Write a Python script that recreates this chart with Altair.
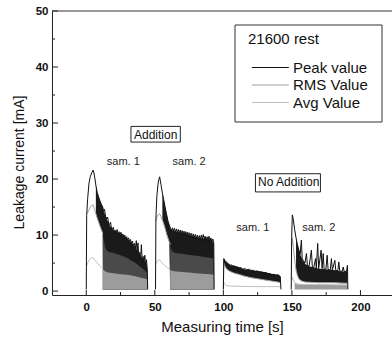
import altair as alt
import pandas as pd

FONT = "Liberation Sans"
BASE = 0.3

SERIES = ["Peak value", "RMS Value", "Avg Value"]
SERIES_COLORS = ["#111111", "#a0a0a0", "#c0c0c0"]

# ---------- Peak value traces (time s, current mA) ----------
PEAK_A1 = [(0, 0.3), (0.3, 13.5), (1, 16.5), (2, 19.3), (3, 20.5), (4, 21.1), (5, 21.6), (5.6, 21.1),
           (6.3, 20.1), (7, 18.9), (8, 17.6), (9, 16.8), (10, 16.1), (11, 15.5), (12, 15.0), (12.6, 14.3),
           (13.3, 14.6), (14, 13.4), (15, 12.9), (15.6, 13.2), (16.3, 12.1), (17, 11.9), (17.7, 12.3),
           (18.4, 11.2), (19, 11.0), (19.7, 11.4), (20.4, 10.6), (21.1, 10.9), (21.8, 10.3), (22.5, 11.0),
           (23.2, 10.2), (23.9, 10.6), (24.6, 10.0), (25.3, 10.5), (26, 9.8), (26.7, 10.2), (27.4, 9.6),
           (28.1, 10.0), (28.8, 9.3), (29.5, 9.7), (30.2, 9.1), (30.9, 9.5), (31.6, 8.8), (32.3, 9.2),
           (33, 8.5), (33.7, 8.9), (34.4, 8.1), (35.1, 8.5), (35.8, 7.6), (36.5, 9.0), (37.1, 6.8),
           (37.7, 8.6), (38.3, 6.2), (39, 6.9), (39.6, 5.8), (40.2, 8.3), (40.8, 5.4), (41.5, 6.2),
           (42.1, 4.9), (42.7, 6.4), (43.3, 4.6), (43.9, 5.6), (44.5, 3.8), (44.8, 0.3)]
PEAK_A2 = [(50.5, 0.3), (50.8, 13.0), (51.5, 17.0), (52.5, 19.5), (53.5, 20.4), (54.5, 19.0), (55.5, 17.5),
           (56.5, 16.3), (57.5, 15.0), (58.5, 13.8), (59.5, 12.6), (60.5, 11.8), (61.5, 11.2), (62.2, 10.6),
           (62.9, 11.3), (63.6, 10.7), (64.3, 11.2), (65, 10.5), (65.7, 11.1), (66.4, 10.4), (67.1, 11.0),
           (67.8, 10.3), (68.5, 10.9), (69.2, 10.2), (69.9, 10.8), (70.6, 10.1), (71.3, 10.7), (72, 10.0),
           (72.7, 10.6), (73.4, 9.9), (74.1, 10.5), (74.8, 9.8), (75.5, 10.4), (76.2, 9.7), (76.9, 10.3),
           (77.6, 9.6), (78.3, 10.2), (79, 9.5), (79.7, 10.1), (80.4, 9.4), (81.1, 10.0), (81.8, 9.3),
           (82.5, 9.9), (83.2, 9.2), (83.9, 10.0), (84.6, 9.1), (85.3, 10.1), (86, 9.2), (86.7, 9.8),
           (87.4, 9.0), (88.1, 9.7), (88.8, 8.9), (89.5, 9.8), (90.2, 8.8), (90.9, 9.5), (91.6, 8.7),
           (92.3, 9.3), (93, 8.6), (93.3, 0.3)]
PEAK_N1 = [(100, 0.3), (100.3, 5.8), (101, 5.5), (102, 5.2), (103, 5.0), (104, 4.8), (105, 4.6), (106, 4.7),
           (107, 4.4), (108, 4.5), (109, 4.2), (110, 4.3), (112, 4.1), (113, 4.2), (114, 3.9), (116, 4.0),
           (117, 3.8), (119, 3.9), (120, 3.7), (122, 3.7), (123, 3.5), (125, 3.6), (126, 3.4), (128, 3.4),
           (129, 3.2), (131, 3.3), (132, 3.1), (134, 3.1), (135, 2.9), (137, 3.0), (138, 2.8), (140, 2.9),
           (141.5, 2.6), (142, 0.3)]
PEAK_N2 = [(149.5, 0.3), (149.8, 9.5), (150.3, 13.6), (151, 12.8), (152, 11.0), (153, 9.5), (154, 8.3),
           (155, 7.4), (156, 6.6), (156.9, 9.1), (157.5, 5.8), (158.5, 5.4), (159.5, 5.0), (160.6, 6.7),
           (161.3, 4.6), (162.5, 4.4), (164.2, 7.3), (164.9, 4.3), (166, 4.2), (167.2, 5.8), (167.8, 4.1),
           (168.8, 8.5), (169.5, 4.0), (171.3, 7.3), (172, 4.0), (172.8, 6.7), (173.5, 3.9), (174.8, 3.9),
           (175.7, 6.4), (176.4, 3.8), (178, 3.8), (178.8, 5.8), (179.5, 3.7), (181.3, 5.5), (182, 3.7),
           (183.5, 3.6), (184.2, 5.2), (184.9, 3.6), (186.7, 3.5), (187.4, 4.3), (188.1, 3.5), (189.8, 3.5),
           (190.5, 4.6), (190.8, 0.3)]

# ---------- RMS value traces ----------
RMS_A1 = [(0.3, 13.8), (1, 14.0), (2, 14.5), (3, 15.0), (4, 15.3), (5, 15.4), (6, 14.6), (7, 13.8),
          (8, 13.0), (9, 12.3), (10, 11.6), (11, 11.0), (12, 10.3)]
RMS_A2 = [(50.8, 12.5), (51.5, 13.2), (52.5, 13.6), (53.5, 13.8), (54.5, 13.3), (55.5, 12.7), (56.5, 12.0),
          (57.5, 11.2), (58.5, 10.3), (59.5, 9.5), (60.5, 8.8), (61.5, 8.3)]
RMS_N1 = [(100, 0.3), (100.3, 5.0), (101, 4.5), (102, 4.1), (103, 3.8), (105, 3.5), (108, 3.2), (111, 3.0),
          (115, 2.7), (120, 2.4), (125, 2.2), (130, 2.0), (135, 1.8), (140, 1.6), (142, 1.5)]
RMS_N2 = [(149.8, 8.0), (150.3, 9.5), (151, 8.0), (152, 5.5), (153, 3.8), (154, 2.8), (155, 2.2), (157, 1.8),
          (160, 1.6), (170, 1.5), (180, 1.5), (190.5, 1.4)]

# ---------- Avg value traces ----------
AVG_A1 = [(0.3, 4.5), (1, 5.0), (2, 5.5), (3, 5.8), (4, 6.0), (5, 5.9), (6, 5.6), (8, 5.0), (10, 4.5), (12, 4.0)]
AVG_A2 = [(50.8, 4.8), (51.5, 5.2), (52.5, 5.5), (53.5, 5.6), (54.5, 5.3), (55.5, 5.0), (57, 4.6), (59, 4.2),
          (61.2, 3.8)]
AVG_N1 = [(100.3, 1.6), (101, 1.2), (102, 1.0), (105, 0.9), (120, 0.8), (142, 0.8)]
AVG_N2 = [(149.8, 2.0), (150.3, 2.5), (151, 2.0), (152, 1.5), (154, 1.2), (190.5, 1.1)]

# ---------- dense (oscillating) regions: (time, low, high) ----------
PEAK_BAND_A1 = [(7, 13.8, 18.9), (8, 13.0, 17.6), (9, 12.3, 16.8), (10, 11.6, 16.1), (11, 11.0, 15.5),
                (12, 10.3, 15.0), (12.3, 0.3, 14.6), (14, 0.3, 13.4), (16, 0.3, 12.3), (18, 0.3, 11.4),
                (20, 0.3, 10.8), (22, 0.3, 10.5), (24, 0.3, 10.3), (26, 0.3, 9.9), (28, 0.3, 9.7),
                (30, 0.3, 9.3), (32, 0.3, 8.9), (34, 0.3, 8.4), (36, 0.3, 7.8), (38, 0.3, 6.6),
                (40, 0.3, 6.2), (42, 0.3, 5.4), (44, 0.3, 4.8), (44.5, 0.3, 3.8)]
PEAK_BAND_A2 = [(55.5, 12.7, 17.5), (56.5, 12.0, 16.3), (57.5, 11.2, 15.0), (58.5, 10.3, 13.8),
                (59.5, 9.5, 12.6), (60.5, 8.8, 11.8), (61.2, 0.3, 11.2), (63, 0.3, 10.8), (66, 0.3, 10.6),
                (69, 0.3, 10.4), (72, 0.3, 10.2), (75, 0.3, 10.0), (78, 0.3, 9.8), (81, 0.3, 9.6),
                (84, 0.3, 9.4), (87, 0.3, 9.3), (90, 0.3, 9.1), (93, 0.3, 8.6)]
PEAK_BAND_N1 = [(100.3, 5.0, 5.8), (101, 4.5, 5.5), (102, 4.1, 5.2), (103, 3.8, 5.0), (105, 3.5, 4.6),
                (108, 3.2, 4.5), (111, 3.0, 4.3), (115, 2.7, 3.9), (120, 2.4, 3.7), (125, 2.2, 3.6),
                (130, 2.0, 3.4), (135, 1.8, 3.1), (140, 1.6, 2.9), (141.5, 1.5, 2.6)]
PEAK_BAND_N2 = [(153, 3.8, 9.5), (154, 2.8, 8.3), (155, 2.2, 7.4), (156, 2.0, 6.6), (158, 1.7, 5.4),
                (160, 1.6, 4.8), (163, 1.6, 4.4), (166, 1.5, 4.2), (170, 1.5, 4.0), (174, 1.5, 3.9),
                (178, 1.5, 3.8), (182, 1.5, 3.7), (186, 1.4, 3.5), (190.5, 1.4, 3.5)]
RMS_BAND_A1 = [(12, 10.3), (12.8, 9.0), (13.6, 8.0), (14.5, 7.4), (16, 7.0), (18, 6.9), (20, 6.8), (22, 6.6),
               (24, 6.5), (26, 6.3), (28, 6.1), (30, 5.9), (32, 5.6), (34, 5.3), (36, 5.0), (38, 4.6),
               (40, 4.2), (42, 3.8), (44, 3.3), (44.5, 3.0)]
RMS_BAND_A2 = [(61.2, 8.3), (62, 7.4), (63, 7.0), (65, 6.8), (68, 6.7), (71, 6.6), (74, 6.5), (77, 6.4),
               (80, 6.3), (83, 6.2), (86, 6.1), (89, 6.0), (93, 5.8)]
AVG_BAND_A1 = [(12, 3.9), (14, 3.5), (16, 3.3), (20, 3.2), (25, 3.0), (30, 2.9), (35, 2.7), (40, 2.4),
               (44.5, 2.1)]
AVG_BAND_A2 = [(61.2, 3.8), (63, 3.6), (66, 3.5), (70, 3.4), (75, 3.3), (80, 3.2), (85, 3.1), (90, 3.0),
               (93, 2.9)]
AVG_BAND_N2 = [(152, 1.5), (154, 1.3), (160, 1.2), (170, 1.2), (180, 1.1), (190.5, 1.1)]

# ---------- annotations ----------
LABEL_TEXT = ["sam. 1", "sam. 2", "sam. 1", "sam. 2"]
LABEL_T = [27, 75, 121.5, 169.6]
LABEL_V = [23.0, 23.0, 11.2, 11.2]
BOX_TEXT = ["Addition", "No Addition"]
BOX_T = [50.6, 147.7]
BOX_V = [27.9, 19.4]
BOX_T0 = [32.6, 123.4]
BOX_T1 = [68.6, 170.8]
BOX_V0 = [26.6, 17.7]
BOX_V1 = [29.4, 20.95]

X_MAJOR = [0, 50, 100, 150, 200]
X_MINOR = [25, 75, 125, 175]
Y_MAJOR = [0, 10, 20, 30, 40, 50]
Y_MINOR = [5, 15, 25, 35, 45]

W, H = 340, 284


def line_df(parts, series):
    rows = []
    for seg, pts in enumerate(parts):
        for i, (t, v) in enumerate(pts):
            rows.append({"t": t, "v": v, "series": series, "seg": f"{series}-{seg}", "i": i})
    return pd.DataFrame(rows)


def band_df(parts, with_lo):
    rows = []
    for seg, pts in enumerate(parts):
        for p in pts:
            if with_lo:
                rows.append({"t": p[0], "lo": p[1], "hi": p[2], "seg": seg})
            else:
                rows.append({"t": p[0], "lo": BASE, "hi": p[1], "seg": seg})
    return pd.DataFrame(rows)


xs = alt.Scale(domain=[-25, 223], nice=False, zero=False)
ys = alt.Scale(domain=[-0.7, 50], nice=False, zero=False)
X = alt.X("t:Q", scale=xs, title="Measuring time [s]",
          axis=alt.Axis(values=X_MAJOR, ticks=False, grid=False, labelFont=FONT, labelFontSize=11.5,
                        labelFontWeight="bold", labelColor="#111", labelPadding=6, titleFont=FONT,
                        titleFontSize=15, titleFontWeight="normal", titleColor="#111", titlePadding=7,
                        domainColor="#222"))
Y = alt.Y("v:Q", scale=ys, title="Leakage current [mA]",
          axis=alt.Axis(values=Y_MAJOR, ticks=False, grid=False, labelFont=FONT, labelFontSize=11.5,
                        labelFontWeight="bold", labelColor="#111", labelPadding=4, titleFont=FONT,
                        titleFontSize=14, titleFontWeight="normal", titleColor="#111", titlePadding=9,
                        titleY=151, domainColor="#222"))


def band_layer(df, color):
    return alt.Chart(df).mark_area(color=color, opacity=1, interpolate="linear").encode(
        x=alt.X("t:Q", scale=xs), y=alt.Y("hi:Q", scale=ys), y2="lo:Q", detail="seg:N")


peak_bands = band_layer(band_df([PEAK_BAND_A1, PEAK_BAND_A2, PEAK_BAND_N1, PEAK_BAND_N2], True), "#1a1a1a")
rms_bands = band_layer(band_df([RMS_BAND_A1, RMS_BAND_A2], False), "#4a4a4a")
avg_bands = band_layer(band_df([AVG_BAND_A1, AVG_BAND_A2, AVG_BAND_N2], False), "#9c9c9c")

color = alt.Color("series:N", scale=alt.Scale(domain=SERIES, range=SERIES_COLORS),
                  legend=alt.Legend(title="21600 rest", orient="none", legendX=196, legendY=21,
                                    titleFont=FONT, titleFontSize=15, titleFontWeight="normal",
                                    titleColor="#111", labelFont=FONT, labelFontSize=15, labelColor="#111",
                                    symbolType="M-1,0H9", symbolSize=55, symbolStrokeWidth=1,
                                    labelOffset=30, rowPadding=1.5, titlePadding=13, padding=0))


def line_layer(df):
    return alt.Chart(df).mark_line(strokeWidth=1).encode(
        x=X, y=Y, color=color, detail="seg:N", order="i:Q")


avg_lines = line_layer(line_df([AVG_A1, AVG_A2, AVG_N1, AVG_N2], "Avg Value"))
rms_lines = line_layer(line_df([RMS_A1, RMS_A2, RMS_N1, RMS_N2], "RMS Value"))
peak_lines = line_layer(line_df([PEAK_A1, PEAK_A2, PEAK_N1, PEAK_N2], "Peak value"))

xt_major = alt.Chart(pd.DataFrame({"t": X_MAJOR})).mark_rule(color="#222").encode(
    x=alt.X("t:Q", scale=xs), y=alt.value(H), y2=alt.value(H - 5))
xt_minor = alt.Chart(pd.DataFrame({"t": X_MINOR})).mark_rule(color="#222").encode(
    x=alt.X("t:Q", scale=xs), y=alt.value(H), y2=alt.value(H - 3))
yt_major = alt.Chart(pd.DataFrame({"v": Y_MAJOR})).mark_rule(color="#222").encode(
    y=alt.Y("v:Q", scale=ys), x=alt.value(0), x2=alt.value(6))
yt_minor = alt.Chart(pd.DataFrame({"v": Y_MINOR})).mark_rule(color="#222").encode(
    y=alt.Y("v:Q", scale=ys), x=alt.value(0), x2=alt.value(3))

# top frame line (the right edge of the frame is outside the picture)
top_frame = alt.Chart(pd.DataFrame({"k": [0]})).mark_rule(color="#333").encode(
    y=alt.value(0), x=alt.value(0), x2=alt.value(W))

boxes_df = pd.DataFrame({"label": BOX_TEXT, "t": BOX_T, "v": BOX_V, "t0": BOX_T0, "t1": BOX_T1,
                         "v0": BOX_V0, "v1": BOX_V1})
boxes = alt.Chart(boxes_df).mark_rect(fill="white", stroke="#222", strokeWidth=1).encode(
    x=alt.X("t0:Q", scale=xs), x2="t1:Q", y=alt.Y("v0:Q", scale=ys), y2="v1:Q")
box_text = alt.Chart(boxes_df).mark_text(font=FONT, fontSize=12, color="#111", baseline="middle",
                                         align="center").encode(
    x=alt.X("t:Q", scale=xs), y=alt.Y("v:Q", scale=ys), text="label:N")
sam_text = alt.Chart(pd.DataFrame({"label": LABEL_TEXT, "t": LABEL_T, "v": LABEL_V})).mark_text(
    font=FONT, fontSize=11, color="#222", baseline="middle", align="center").encode(
    x=alt.X("t:Q", scale=xs), y=alt.Y("v:Q", scale=ys), text="label:N")

legend_box = alt.Chart(pd.DataFrame({"k": [0]})).mark_rect(fill="white", stroke="#333", strokeWidth=1).encode(
    x=alt.value(183), x2=alt.value(330), y=alt.value(14), y2=alt.value(111))

chart = alt.layer(
    legend_box, peak_bands, rms_bands, avg_bands, avg_lines, rms_lines, peak_lines,
    xt_major, xt_minor, yt_major, yt_minor, top_frame, boxes, box_text, sam_text
).properties(
    width=W, height=H,
    autosize=alt.AutoSizeParams(type="none"),
    padding={"left": 52, "top": 11, "right": 0, "bottom": 44},
    background="white",
).configure_view(strokeWidth=0)

chart.save("out.html", embed_options={"renderer": "svg", "actions": False})
